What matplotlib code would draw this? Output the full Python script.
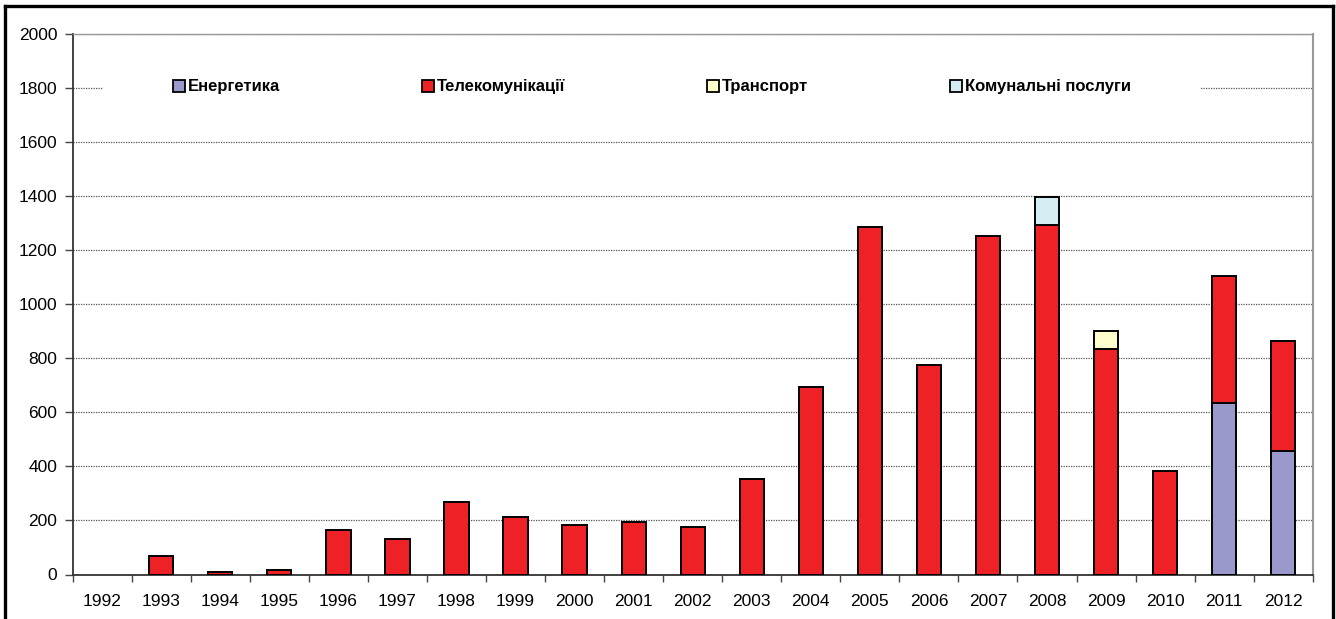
import matplotlib.pyplot as plt
from matplotlib.patches import Patch, Rectangle
from matplotlib.lines import Line2D
import matplotlib.transforms as mtransforms
import numpy as np

plt.rcParams['font.family'] = ['Liberation Sans', 'DejaVu Sans']

years = [str(y) for y in range(1992, 2013)]
energy = [0, 0, 0, 0, 0, 0, 0, 0, 0, 0, 0, 0, 0, 0, 0, 0, 0, 0, 0, 636, 457]
telecom = [0, 70, 8, 15, 163, 130, 267, 211, 185, 196, 174, 352, 693, 1285,
           774, 1252, 1293, 833, 384, 468, 406]
transport = [0, 0, 0, 0, 0, 0, 0, 0, 0, 0, 0, 0, 0, 0, 0, 0, 0, 67, 0, 0, 0]
utilities = [0, 0, 0, 0, 0, 0, 0, 0, 0, 0, 0, 0, 0, 0, 0, 0, 103, 0, 0, 0, 0]

series = [
    ("Енергетика", energy, "#9999CC"),
    ("Телекомунікації", telecom, "#EE2226"),
    ("Транспорт", transport, "#FFFFCC"),
    ("Комунальні послуги", utilities, "#D3EDF3"),
]

W, H = 1336, 619
fig = plt.figure(figsize=(W / 100, H / 100), dpi=100)
ax = fig.add_axes([72.7 / W, (H - 574.5) / H, 1240 / W, 540.5 / H])

x = np.arange(len(years))
bottom = np.zeros(len(years))
for name, vals, col in series:
    vals = np.array(vals, dtype=float)
    mask = vals > 0
    ax.bar(x[mask], vals[mask], width=0.41, bottom=bottom[mask], color=col,
           edgecolor="black", linewidth=1.4, zorder=3)
    bottom += vals

ax.set_xlim(-0.5, len(years) - 0.5)
ax.set_ylim(0, 2000)
ax.set_yticks(range(0, 2001, 200))
ax.set_xticks(x)
ax.set_xticklabels(years)
ax.set_xticks(np.arange(-0.5, len(years), 1), minor=True)
ax.tick_params(axis="x", which="major", length=0, pad=14, labelsize=12.5)
ax.tick_params(axis="x", which="minor", length=5, width=1, color="#444444")
ax.tick_params(axis="y", length=6, width=1, color="#444444", pad=5, labelsize=12.5)

ax.yaxis.grid(True, linestyle=(0, (1, 1)), color="#555555", linewidth=0.9, zorder=0)
ax.set_axisbelow(True)

for s in ["left", "bottom"]:
    ax.spines[s].set_color("#333333")
    ax.spines[s].set_linewidth(1.3)
ax.spines["right"].set_color("#999999")
ax.spines["right"].set_linewidth(1.5)
ax.spines["top"].set_color("#999999")
ax.spines["top"].set_linewidth(1.0)

# white band behind the legend hides the 1800 gridline
trans = mtransforms.blended_transform_factory(ax.transAxes, ax.transData)
ax.add_patch(Rectangle(((103 - 72.7) / 1240, 1770), (1200 - 103) / 1240, 60,
                       transform=trans, facecolor="white", edgecolor="none", zorder=1))

handles = [Patch(facecolor=col, edgecolor="black", linewidth=1.3) for _, _, col in series]
ax.legend(handles, [s[0] for s in series], ncol=4, loc="center left",
          bbox_to_anchor=((165 - 72.7) / 1240, (574.5 - 87) / 540.5),
          frameon=False, borderpad=0, handlelength=0.7, handleheight=0.7,
          handletextpad=0.2, columnspacing=8.5,
          prop={"weight": "bold", "size": 12})

# outer frame
lw = 2.4
fig.add_artist(Line2D([4.5 / W, 4.5 / W], [0, 1 - 6 / H], color="black", lw=lw))
fig.add_artist(Line2D([1332.5 / W, 1332.5 / W], [0, 1 - 6 / H], color="black", lw=lw))
fig.add_artist(Line2D([4.5 / W, 1332.5 / W], [1 - 6 / H, 1 - 6 / H], color="black", lw=lw))

fig.savefig("out.png", dpi=100, facecolor="white")
